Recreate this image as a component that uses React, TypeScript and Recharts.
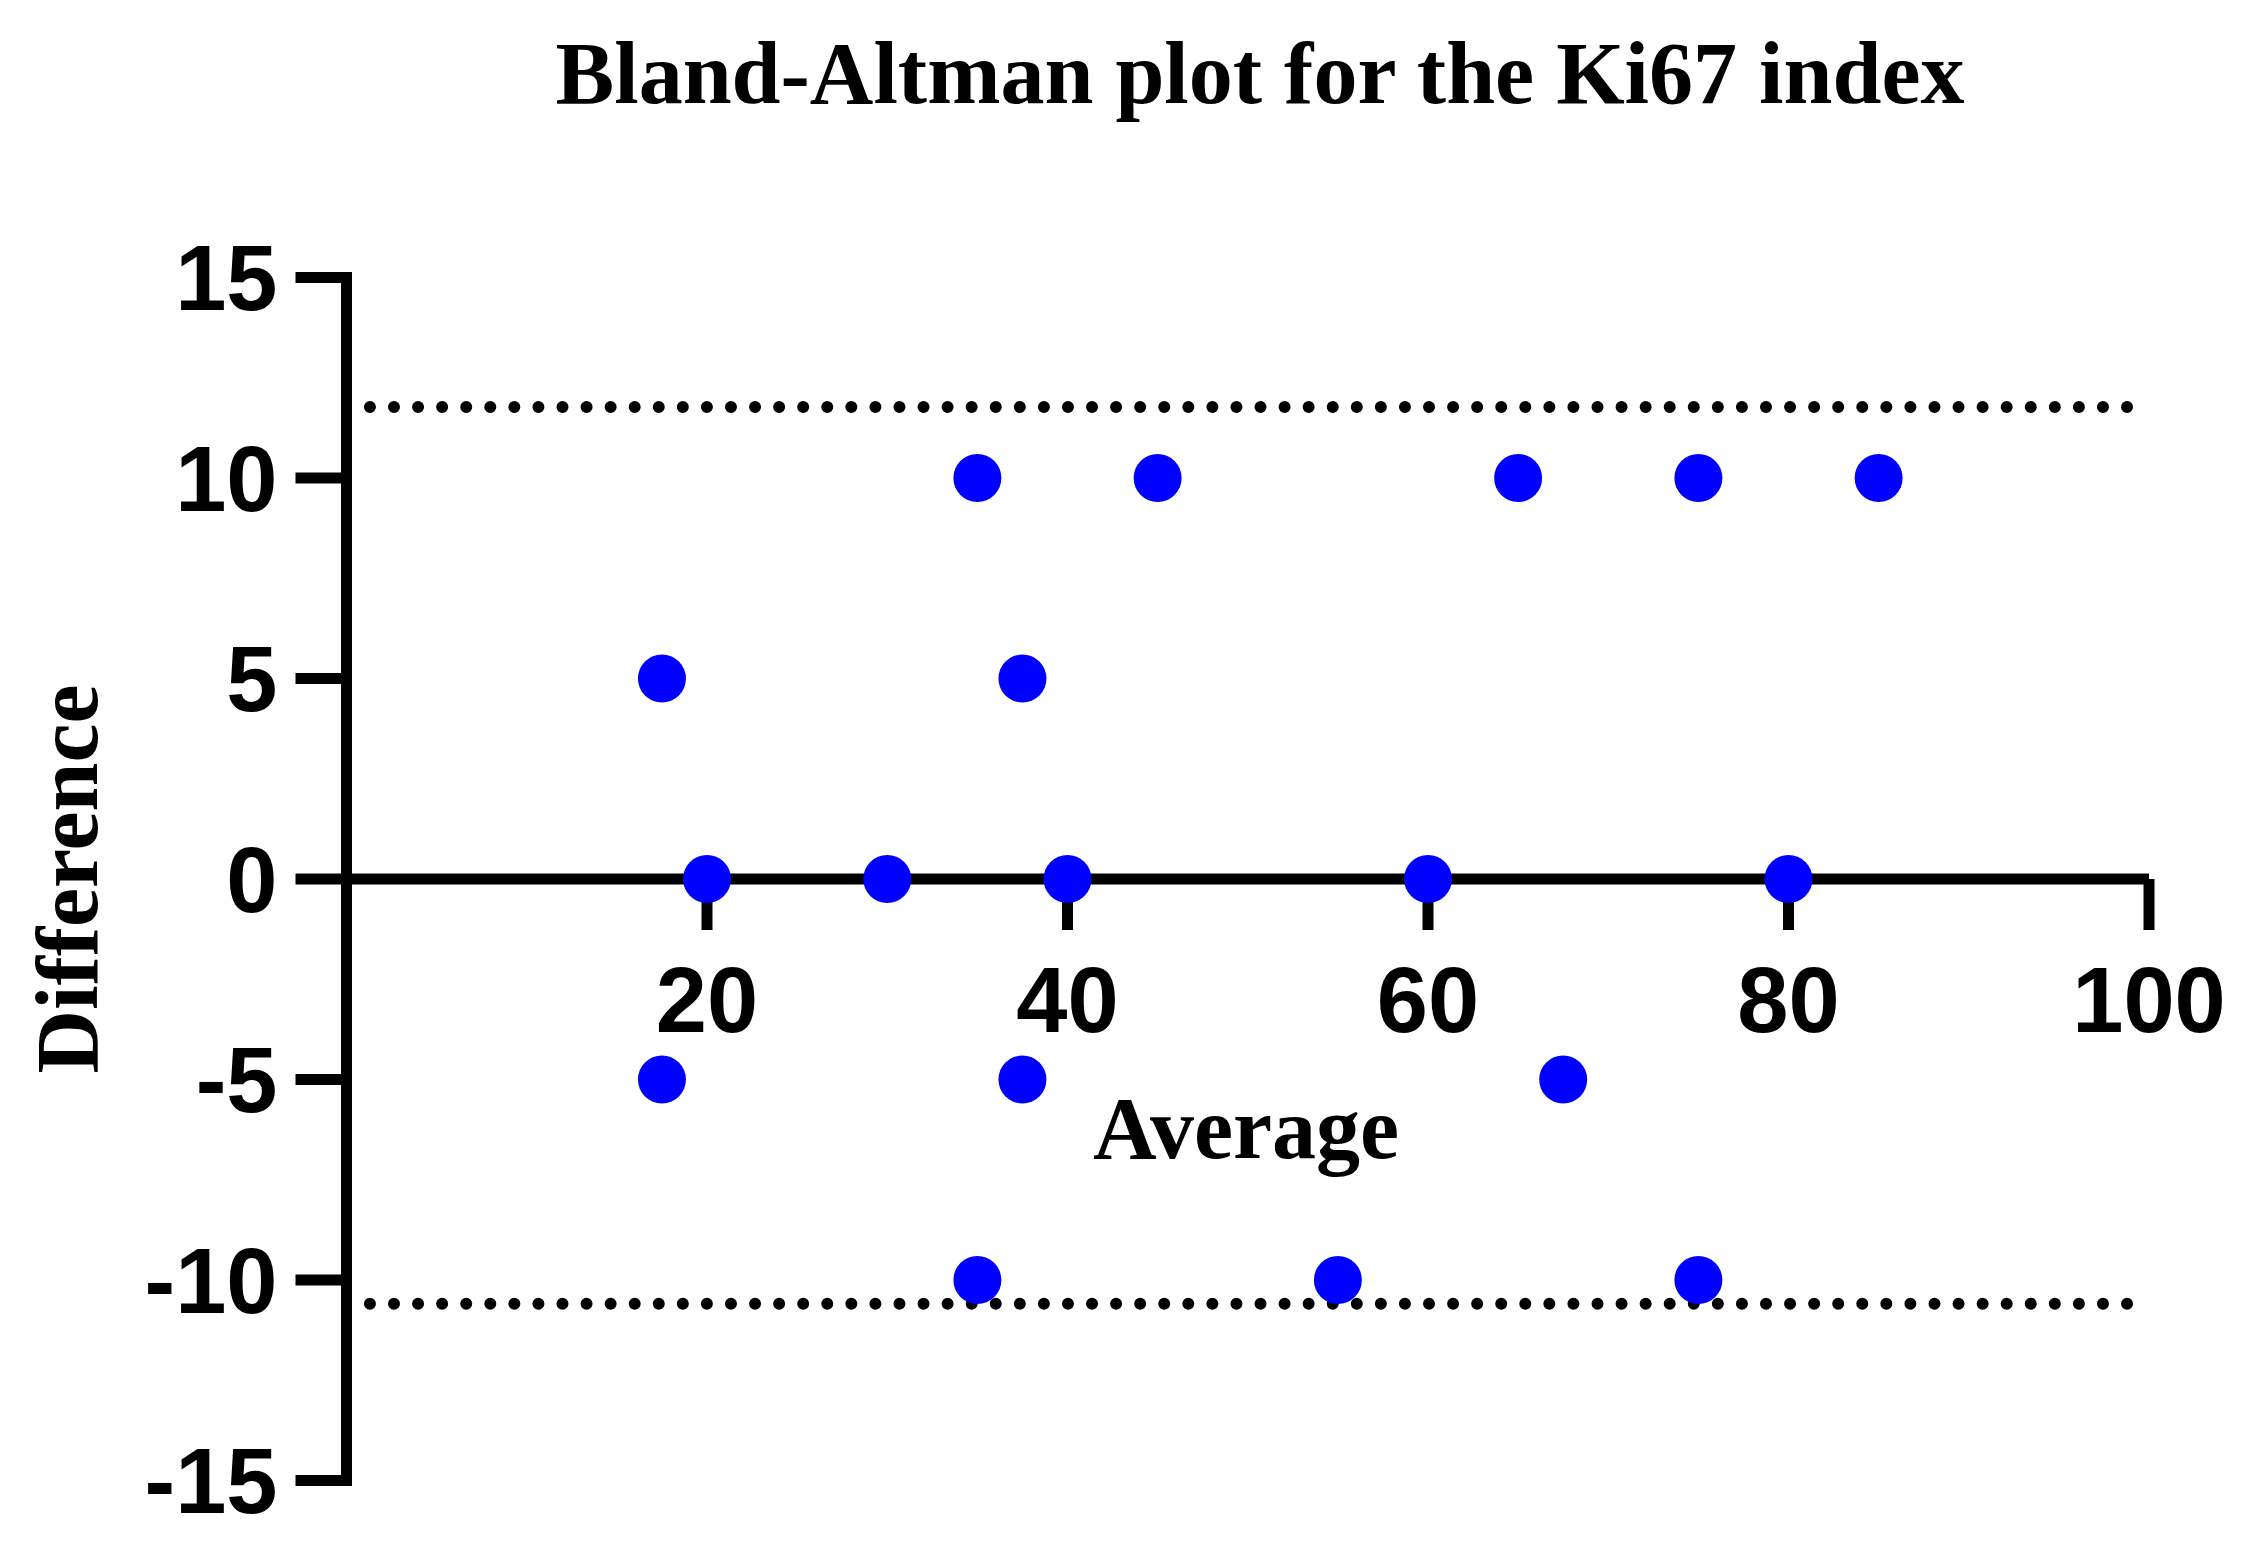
import React from 'react';
import { ScatterChart, Scatter, XAxis, YAxis, ReferenceLine } from 'recharts';

// ---- data ----
const avgValues = [17.5, 17.5, 20, 30, 35, 35, 37.5, 37.5, 40, 45, 55, 60, 65, 67.5, 75, 75, 80, 85];
const diffValues = [5, -5, 0, 0, 10, -10, 5, -5, 0, 10, -10, 0, 10, -5, 10, -10, 0, 10];
const upperLoA = 11.77;
const lowerLoA = -10.59;
const loaExtent = [1.3, 99.1];
const xTicks = [20, 40, 60, 80, 100];
const yTicks = [-15, -10, -5, 0, 5, 10, 15];
const xDomain = [0, 100];
const yDomain = [-15, 15];
const titleText = 'Bland-Altman plot for the Ki67 index';
const xTitle = 'Average';
const yTitle = 'Difference';

const points = avgValues.map((x, i) => ({ x, y: diffValues[i] }));
const zeroLine = xDomain.map((x) => ({ x, y: 0 }));
const xTickData = xTicks.map((x) => ({ x, y: 0 }));

const W = 2250;
const H = 1525;
const sansBold = { fontFamily: '"Liberation Sans", Arial, sans-serif', fontWeight: 700 };
const serifBold = { fontFamily: '"Liberation Serif", "Times New Roman", serif', fontWeight: 700 };

const Dot = (p: any) => <circle cx={p.cx} cy={p.cy} r={24} fill="#0000ff" />;
const Empty = () => <g />;
const XTickShape = (p: any) => (
  <g>
    <line x1={p.cx} y1={p.cy} x2={p.cx} y2={p.cy + 51} stroke="#000" strokeWidth={11} />
    <text x={p.cx} y={p.cy + 153} textAnchor="middle" fontSize={92} fill="#000" style={sansBold}>
      {p.payload.x}
    </text>
  </g>
);

export default function App() {
  return (
    <div style={{ position: 'relative', width: W, height: H }}>
      <ScatterChart width={W} height={H} margin={{ top: 269.5, right: 109, bottom: 52.5, left: 0 }}>
        <XAxis type="number" dataKey="x" domain={xDomain} hide />
        <YAxis
          type="number"
          dataKey="y"
          domain={yDomain}
          ticks={yTicks}
          interval={0}
          width={338.5}
          tickSize={51}
          tickMargin={18}
          axisLine={{ stroke: '#000', strokeWidth: 11, strokeLinecap: 'square' }}
          tickLine={{ stroke: '#000', strokeWidth: 11 }}
          tick={{ fill: '#000', fontSize: 92, ...sansBold }}
        />
        <ReferenceLine
          segment={[{ x: loaExtent[0], y: upperLoA }, { x: loaExtent[1], y: upperLoA }]}
          stroke="#000"
          strokeWidth={12}
          strokeDasharray="0 24.07"
          strokeLinecap="round"
        />
        <ReferenceLine
          segment={[{ x: loaExtent[0], y: lowerLoA }, { x: loaExtent[1], y: lowerLoA }]}
          stroke="#000"
          strokeWidth={12}
          strokeDasharray="0 24.07"
          strokeLinecap="round"
        />
        <Scatter data={zeroLine} line={{ stroke: '#000', strokeWidth: 11 }} shape={Empty} isAnimationActive={false} />
        <Scatter data={xTickData} shape={XTickShape} isAnimationActive={false} />
        <Scatter data={points} shape={Dot} fill="#0000ff" isAnimationActive={false} />
      </ScatterChart>
      <svg width={W} height={H} style={{ position: 'absolute', left: 0, top: 0, pointerEvents: 'none' }}>
        <text x={1252} y={94.7} textAnchor="middle" fontSize={88} fill="#000" style={serifBold}>
          {titleText}
        </text>
        <text x={1238} y={1150} textAnchor="middle" fontSize={88} fill="#000" style={serifBold}>
          {xTitle}
        </text>
        <text
          x={88.7}
          y={871}
          textAnchor="middle"
          fontSize={88}
          fill="#000"
          style={serifBold}
          transform="rotate(-90, 88.7, 871)"
        >
          {yTitle}
        </text>
      </svg>
    </div>
  );
}
